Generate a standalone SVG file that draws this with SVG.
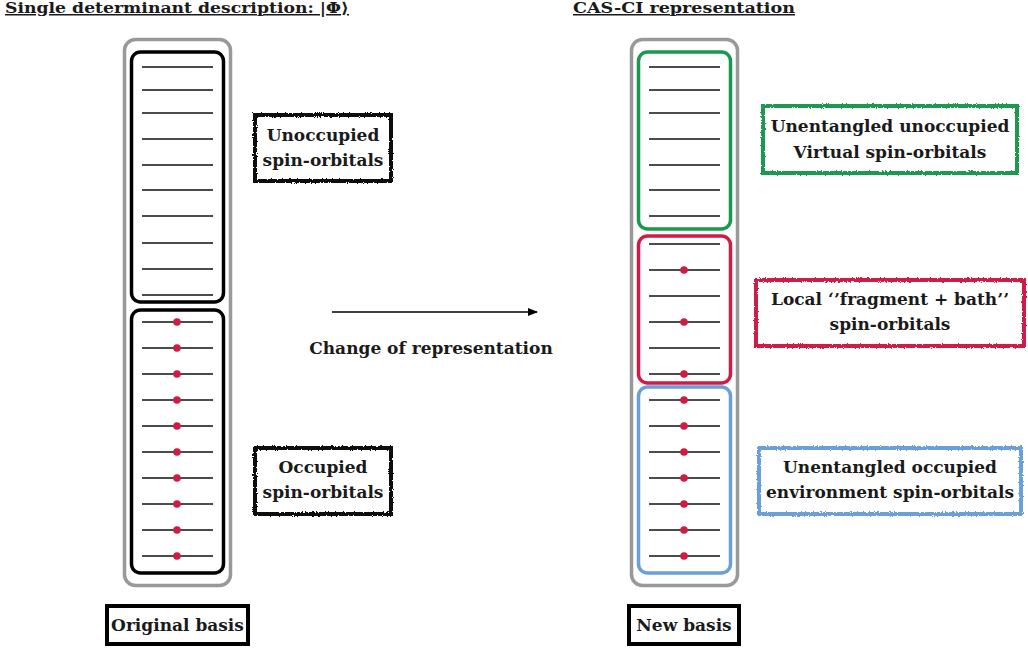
<svg xmlns="http://www.w3.org/2000/svg" width="1028" height="650" viewBox="0 0 1028 650">
<style>
text{font-family:"DejaVu Serif","Liberation Serif",serif;font-weight:bold;fill:#1a1a1a}
.t{font-size:15px}
.lab{font-size:17px;text-anchor:middle}
.outer{fill:none;stroke:#999;stroke-width:3.5}
.blk{fill:none;stroke:#000;stroke-width:3.5}
.orb{stroke:#111;stroke-width:1.5}
.dot{fill:#d01c44}
.rough{fill:#fff;stroke-width:4;filter:url(#rgh)}
</style>
<defs>
<filter id="rgh" x="-5%" y="-10%" width="110%" height="120%">
<feTurbulence type="fractalNoise" baseFrequency="0.8" numOctaves="2" seed="3" result="n"/>
<feDisplacementMap in="SourceGraphic" in2="n" scale="3" xChannelSelector="R" yChannelSelector="G"/>
</filter>
<marker id="ah" markerWidth="10" markerHeight="8" refX="9" refY="4" orient="auto" markerUnits="userSpaceOnUse">
<path d="M0,0 L10,4 L0,8 Z" fill="#000"/>
</marker>
</defs>
<rect width="1028" height="650" fill="#fff"/>

<g id="titles">
<text class="t" x="5" y="13" text-decoration="underline" textLength="344" lengthAdjust="spacingAndGlyphs">Single determinant description: |Φ⟩</text>
<text class="t" x="573" y="13" text-decoration="underline" textLength="222" lengthAdjust="spacingAndGlyphs">CAS-CI representation</text>
</g>

<g id="left-column">
<rect class="outer" x="124.5" y="39.5" width="106" height="546" rx="11"/>
<rect class="blk" x="131.5" y="52" width="92" height="250" rx="9"/>
<rect class="blk" x="131.5" y="310" width="92" height="263" rx="9"/>
<g class="orb">
<line x1="142" x2="213" y1="67" y2="67"/>
<line x1="142" x2="213" y1="90" y2="90"/>
<line x1="142" x2="213" y1="113" y2="113"/>
<line x1="142" x2="213" y1="139" y2="139"/>
<line x1="142" x2="213" y1="165" y2="165"/>
<line x1="142" x2="213" y1="190" y2="190"/>
<line x1="142" x2="213" y1="216" y2="216"/>
<line x1="142" x2="213" y1="243" y2="243"/>
<line x1="142" x2="213" y1="269" y2="269"/>
<line x1="142" x2="213" y1="295" y2="295"/>
<line x1="142" x2="213" y1="322" y2="322"/>
<line x1="142" x2="213" y1="348" y2="348"/>
<line x1="142" x2="213" y1="374" y2="374"/>
<line x1="142" x2="213" y1="400" y2="400"/>
<line x1="142" x2="213" y1="426" y2="426"/>
<line x1="142" x2="213" y1="452" y2="452"/>
<line x1="142" x2="213" y1="478" y2="478"/>
<line x1="142" x2="213" y1="504" y2="504"/>
<line x1="142" x2="213" y1="530" y2="530"/>
<line x1="142" x2="213" y1="556" y2="556"/>
</g>
<g class="dot">
<circle cx="177" cy="322" r="3.8"/>
<circle cx="177" cy="348" r="3.8"/>
<circle cx="177" cy="374" r="3.8"/>
<circle cx="177" cy="400" r="3.8"/>
<circle cx="177" cy="426" r="3.8"/>
<circle cx="177" cy="452" r="3.8"/>
<circle cx="177" cy="478" r="3.8"/>
<circle cx="177" cy="504" r="3.8"/>
<circle cx="177" cy="530" r="3.8"/>
<circle cx="177" cy="556" r="3.8"/>
</g>
</g>

<g id="right-column">
<rect class="outer" x="631.5" y="39.5" width="106" height="546" rx="11"/>
<rect fill="none" stroke="#1a9850" stroke-width="3.5" x="638.5" y="52" width="92" height="177" rx="9"/>
<rect fill="none" stroke="#d01c44" stroke-width="3.5" x="638.5" y="236" width="92" height="147" rx="9"/>
<rect fill="none" stroke="#6a9fd8" stroke-width="3.5" x="638.5" y="387" width="92" height="186" rx="9"/>
<g class="orb">
<line x1="649" x2="720" y1="67" y2="67"/>
<line x1="649" x2="720" y1="90" y2="90"/>
<line x1="649" x2="720" y1="113" y2="113"/>
<line x1="649" x2="720" y1="139" y2="139"/>
<line x1="649" x2="720" y1="165" y2="165"/>
<line x1="649" x2="720" y1="190" y2="190"/>
<line x1="649" x2="720" y1="216" y2="216"/>
<line x1="649" x2="720" y1="244" y2="244"/>
<line x1="649" x2="720" y1="270" y2="270"/>
<line x1="649" x2="720" y1="296" y2="296"/>
<line x1="649" x2="720" y1="322" y2="322"/>
<line x1="649" x2="720" y1="348" y2="348"/>
<line x1="649" x2="720" y1="374" y2="374"/>
<line x1="649" x2="720" y1="400" y2="400"/>
<line x1="649" x2="720" y1="426" y2="426"/>
<line x1="649" x2="720" y1="452" y2="452"/>
<line x1="649" x2="720" y1="478" y2="478"/>
<line x1="649" x2="720" y1="504" y2="504"/>
<line x1="649" x2="720" y1="530" y2="530"/>
<line x1="649" x2="720" y1="556" y2="556"/>
</g>
<g class="dot">
<circle cx="684" cy="270" r="3.8"/>
<circle cx="684" cy="322" r="3.8"/>
<circle cx="684" cy="374" r="3.8"/>
<circle cx="684" cy="400" r="3.8"/>
<circle cx="684" cy="426" r="3.8"/>
<circle cx="684" cy="452" r="3.8"/>
<circle cx="684" cy="478" r="3.8"/>
<circle cx="684" cy="504" r="3.8"/>
<circle cx="684" cy="530" r="3.8"/>
<circle cx="684" cy="556" r="3.8"/>
</g>
</g>

<g id="label-unoccupied">
<rect class="rough" stroke="#111" x="255" y="115" width="136" height="66"/>
<text class="lab" x="323" y="141">Unoccupied</text>
<text class="lab" x="323" y="166">spin-orbitals</text>
</g>
<g id="label-occupied">
<rect class="rough" stroke="#111" x="255" y="448" width="136" height="66"/>
<text class="lab" x="323" y="473">Occupied</text>
<text class="lab" x="323" y="498">spin-orbitals</text>
</g>
<g id="label-virtual">
<rect class="rough" stroke="#1a9850" x="763" y="106" width="254" height="67"/>
<text class="lab" x="890" y="132">Unentangled unoccupied</text>
<text class="lab" x="890" y="158">Virtual spin-orbitals</text>
</g>
<g id="label-fragment">
<rect class="rough" stroke="#d01c44" x="756" y="280" width="268" height="66"/>
<text class="lab" x="890" y="305">Local ‘’fragment + bath’’</text>
<text class="lab" x="890" y="330">spin-orbitals</text>
</g>
<g id="label-environment">
<rect class="rough" stroke="#6a9fd8" x="759" y="448" width="262" height="66"/>
<text class="lab" x="890" y="473">Unentangled occupied</text>
<text class="lab" x="890" y="498">environment spin-orbitals</text>
</g>

<g id="label-original">
<rect fill="#fff" stroke="#000" stroke-width="4" x="107" y="606" width="141" height="38"/>
<text class="lab" x="177.5" y="631">Original basis</text>
</g>
<g id="label-new">
<rect fill="#fff" stroke="#000" stroke-width="4" x="629" y="606" width="110" height="38"/>
<text class="lab" x="684" y="631">New basis</text>
</g>

<g id="connectors">
<line x1="332" y1="312" x2="537" y2="312" stroke="#000" stroke-width="1.5" marker-end="url(#ah)"/>
<text class="lab" x="431" y="354">Change of representation</text>
</g>
</svg>
